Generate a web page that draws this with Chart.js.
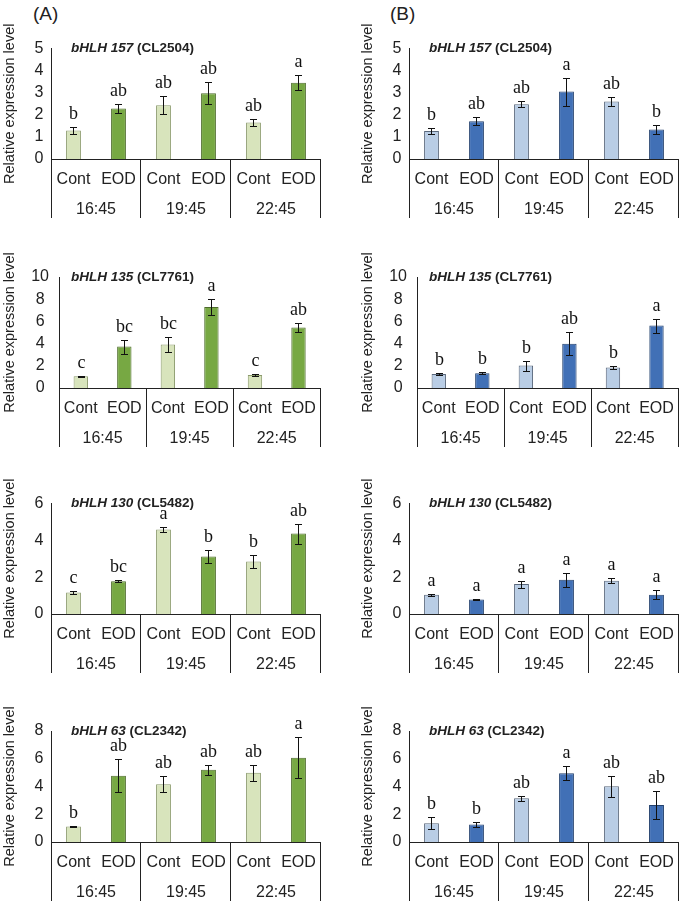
<!DOCTYPE html>
<html>
<head>
<meta charset="utf-8">
<script src="https://cdn.jsdelivr.net/npm/chart.js@4"></script>
<style>
  body { margin: 0; background: #fff; }
  #wrap { position: relative; width: 685px; height: 902px; font-family: "Liberation Sans", Arial, sans-serif; }
  .panel { position: absolute; }
  .tag { position: absolute; font-size: 19px; line-height: 1; color: #222; }
</style>
</head>
<body>
<div id="wrap">
  <div class="tag" style="left:33px;top:4px">(A)</div>
  <div class="tag" style="left:390px;top:4px">(B)</div>
</div>
<script>
// categories
var treatments = ['Cont', 'EOD'];
var times = ['16:45', '19:45', '22:45'];
var genes = ['bHLH 157', 'bHLH 135', 'bHLH 130', 'bHLH 63'];
var clones = ['(CL2504)', '(CL7761)', '(CL5482)', '(CL2342)'];
var yMax = [5, 10, 6, 8];
var yStep = [1, 2, 2, 2];

// (A) green panels, order Cont/EOD at 16:45, 19:45, 22:45
var a157 = [1.29, 2.28, 2.43, 2.97, 1.65, 3.45];
var a157Err = [0.15, 0.2, 0.4, 0.5, 0.15, 0.35];
var a157Sig = ['b', 'ab', 'ab', 'ab', 'ab', 'a'];
var a135 = [1.05, 3.73, 3.92, 7.29, 1.17, 5.45];
var a135Err = [0.03, 0.63, 0.65, 0.75, 0.05, 0.4];
var a135Sig = ['c', 'bc', 'bc', 'a', 'c', 'ab'];
var a130 = [1.16, 1.78, 4.58, 3.11, 2.85, 4.36];
var a130Err = [0.07, 0.07, 0.15, 0.34, 0.33, 0.54];
var a130Sig = ['c', 'bc', 'a', 'b', 'b', 'ab'];
var a63 = [1.12, 4.78, 4.17, 5.21, 4.99, 6.08];
var a63Err = [0.03, 1.18, 0.6, 0.35, 0.56, 1.5];
var a63Sig = ['b', 'ab', 'ab', 'ab', 'ab', 'a'];

// (B) blue panels
var b157 = [1.27, 1.71, 2.48, 3.05, 2.6, 1.33];
var b157Err = [0.14, 0.19, 0.13, 0.63, 0.19, 0.21];
var b157Sig = ['b', 'ab', 'ab', 'a', 'ab', 'b'];
var b135 = [1.27, 1.33, 2.02, 3.98, 1.84, 5.63];
var b135Err = [0.1, 0.1, 0.45, 1.05, 0.1, 0.63];
var b135Sig = ['b', 'b', 'b', 'ab', 'b', 'a'];
var b130 = [1.04, 0.78, 1.62, 1.85, 1.8, 1.05];
var b130Err = [0.05, 0.02, 0.19, 0.39, 0.13, 0.25];
var b130Sig = ['a', 'a', 'a', 'a', 'a', 'a'];
var b63 = [1.36, 1.26, 3.15, 4.95, 4.02, 2.67];
var b63Err = [0.42, 0.15, 0.18, 0.5, 0.76, 0.98];
var b63Sig = ['b', 'b', 'ab', 'a', 'ab', 'ab'];

var ff = '"Liberation Sans", Arial, sans-serif';
var ink = '#222';
var plotTops = [48.5, 277, 503.3, 731];
var plotH = 110.5;

Chart.defaults.font.family = ff;
Chart.defaults.color = ink;

function makePanel(col, row, means, errs, sigs) {
  var left = col === 0 ? 0 : 358;
  var canvasTop = Math.round(plotTops[row]) - 30;
  var padTop = plotTops[row] - canvasTop;
  var height = Math.round(padTop + plotH + 59);

  var div = document.createElement('div');
  div.className = 'panel';
  div.style.left = left + 'px';
  div.style.top = canvasTop + 'px';
  var canvas = document.createElement('canvas');
  canvas.width = 327;
  canvas.height = height;
  canvas.style.width = '327px';
  canvas.style.height = height + 'px';
  div.appendChild(canvas);
  document.getElementById('wrap').appendChild(div);

  var axisW = yMax[row] >= 10 ? 59 : 51;
  var fills = col === 0 ? ['#d8e4bc', '#77a843'] : ['#b9cde5', '#4170b6'];
  var borders = col === 0 ? ['#8b9a6c', '#4d6b2b'] : ['#59677b', '#213f6c'];
  var labels = [], bg = [], bd = [];
  times.forEach(function() {
    treatments.forEach(function(t, i) {
      labels.push(t);
      bg.push(fills[i]);
      bd.push(borders[i]);
    });
  });

  // error bars, letters, group dividers and the gene title
  var extras = {
    id: 'extras',
    afterDatasetsDraw: function(chart) {
      var ctx = chart.ctx, x = chart.scales.x, y = chart.scales.y, x2 = chart.scales.x2;
      var area = chart.chartArea;
      ctx.save();
      ctx.strokeStyle = '#111';
      ctx.lineWidth = 1;
      ctx.fillStyle = '#111';
      ctx.font = '18px "Liberation Serif", "Times New Roman", serif';
      ctx.textAlign = 'center';
      ctx.textBaseline = 'alphabetic';
      means.forEach(function(m, i) {
        var px = Math.round(x.getPixelForValue(i)) + 0.5;
        var hi = Math.round(y.getPixelForValue(m + errs[i])) + 0.5;
        var lo = Math.round(y.getPixelForValue(m - errs[i])) + 0.5;
        ctx.beginPath();
        ctx.moveTo(px, hi); ctx.lineTo(px, lo);
        ctx.moveTo(px - 3.5, hi); ctx.lineTo(px + 3.5, hi);
        ctx.moveTo(px - 3.5, lo); ctx.lineTo(px + 3.5, lo);
        ctx.stroke();
        ctx.fillText(sigs[i], px, hi - 9);
      });

      ctx.strokeStyle = ink;
      [-0.5, 1.5, 3.5, 5.5].forEach(function(v) {
        var px = Math.round(x.getPixelForValue(v) - 0.5) + 0.5;
        ctx.beginPath();
        ctx.moveTo(px, area.bottom);
        ctx.lineTo(px, x2.bottom);
        ctx.stroke();
      });

      ctx.fillStyle = ink;
      ctx.textAlign = 'left';
      ctx.textBaseline = 'middle';
      ctx.font = 'italic bold 13.5px ' + ff;
      ctx.fillText(genes[row], 71, area.top);
      var w = ctx.measureText(genes[row]).width;
      ctx.font = 'bold 13.5px ' + ff;
      ctx.fillText(' ' + clones[row], 71 + w, area.top);
      ctx.restore();
    }
  };

  var tickFont = { size: 16, family: ff };

  new Chart(canvas, {
    type: 'bar',
    data: {
      labels: labels,
      datasets: [{
        data: means,
        backgroundColor: bg,
        borderColor: bd,
        borderWidth: 1,
        barPercentage: 0.33,
        categoryPercentage: 1
      }]
    },
    options: {
      responsive: false,
      animation: false,
      layout: { padding: { top: padTop, right: 2, bottom: 0, left: 0 } },
      plugins: { legend: { display: false }, tooltip: { enabled: false } },
      scales: {
        x: {
          position: 'bottom',
          weight: 0,
          grid: { display: false, drawTicks: false },
          border: { display: true, color: ink, width: 1 },
          ticks: { font: tickFont, color: ink, padding: 11, autoSkip: false, maxRotation: 0 },
          afterFit: function(s) { s.height = 30; }
        },
        x2: {
          type: 'category',
          position: 'bottom',
          weight: 1,
          labels: times,
          offset: true,
          grid: { display: false, drawTicks: false },
          border: { display: false },
          ticks: { font: tickFont, color: ink, padding: 11, autoSkip: false, maxRotation: 0 },
          afterFit: function(s) { s.height = 29; }
        },
        y: {
          min: 0,
          max: yMax[row],
          grid: { display: false, drawTicks: false },
          border: { display: true, color: ink, width: 1 },
          ticks: {
            stepSize: yStep[row],
            autoSkip: false,
            font: tickFont,
            color: ink,
            crossAlign: 'center',
            padding: yMax[row] >= 10 ? 10 : 7.5
          },
          title: {
            display: true,
            text: 'Relative expression level',
            font: { size: 14.5, family: ff },
            color: ink,
            padding: { top: 1, bottom: 0 }
          },
          afterFit: function(s) { s.width = axisW; }
        }
      }
    },
    plugins: [extras]
  });
}

makePanel(0, 0, a157, a157Err, a157Sig);
makePanel(1, 0, b157, b157Err, b157Sig);
makePanel(0, 1, a135, a135Err, a135Sig);
makePanel(1, 1, b135, b135Err, b135Sig);
makePanel(0, 2, a130, a130Err, a130Sig);
makePanel(1, 2, b130, b130Err, b130Sig);
makePanel(0, 3, a63, a63Err, a63Sig);
makePanel(1, 3, b63, b63Err, b63Sig);
</script>
</body>
</html>
